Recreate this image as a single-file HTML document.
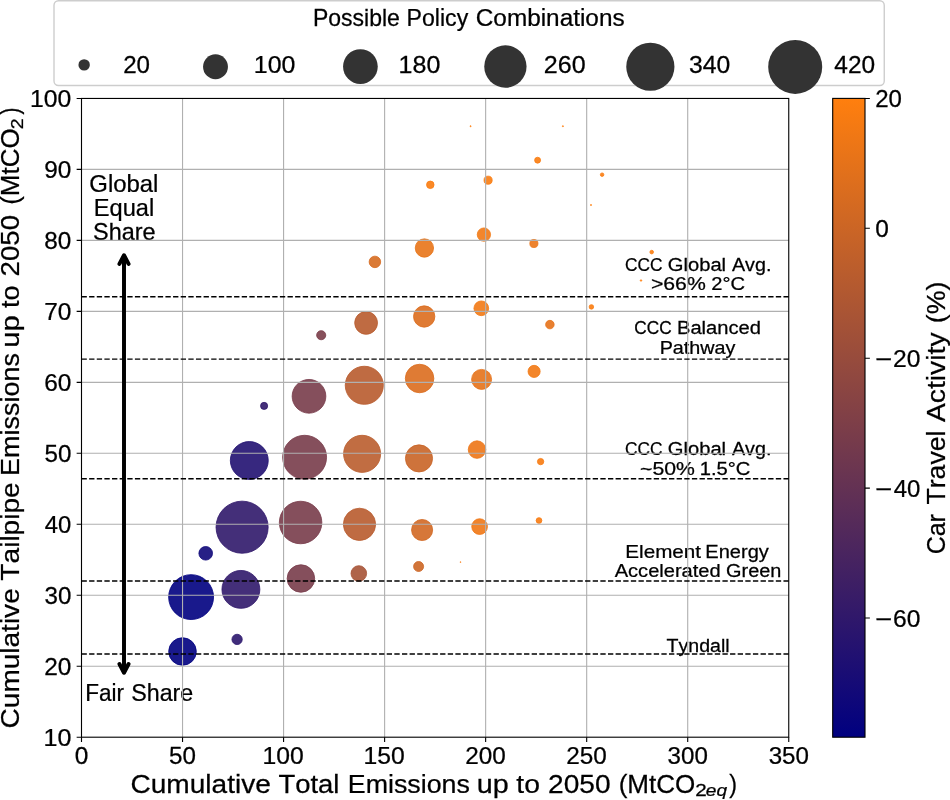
<!DOCTYPE html>
<html><head><meta charset="utf-8"><style>
html,body{margin:0;padding:0;background:#fff;overflow:hidden}
svg{display:block;will-change:transform}
text{font-family:"Liberation Sans", sans-serif;fill:#000;font-kerning:none;stroke:#000;stroke-width:0.25px}
</style></head><body>
<svg width="950" height="800" viewBox="0 0 950 800">
<rect x="0" y="0" width="950" height="800" fill="#fff"/>
<rect x="54.0" y="0.7" width="830.25" height="84.8" rx="4.5" ry="4.5" fill="#fff" stroke="#cdcdcd" stroke-width="1.39"/>
<text transform="translate(313.01,25.90) scale(0.9826,1)" font-size="23.4">Possible</text>
<text transform="translate(406.60,25.90) scale(0.9875,1)" font-size="23.4">Policy</text>
<text transform="translate(475.76,25.90) scale(1.0408,1)" font-size="23.4">Combinations</text>
<circle cx="84.15" cy="64.9" r="5.70" fill="#333333"/>
<circle cx="215.5" cy="66.8" r="12.45" fill="#333333"/>
<circle cx="360.4" cy="66.6" r="17.35" fill="#333333"/>
<circle cx="505.4" cy="66.5" r="21.15" fill="#333333"/>
<circle cx="650.35" cy="66.75" r="24.10" fill="#333333"/>
<circle cx="795.2" cy="66.9" r="27.00" fill="#333333"/>
<text transform="translate(123.19,72.60) scale(1.0319,1)" font-size="23.4">20</text>
<text transform="translate(253.80,72.60) scale(1.0648,1)" font-size="23.4">100</text>
<text transform="translate(398.59,72.60) scale(1.0703,1)" font-size="23.4">180</text>
<text transform="translate(543.74,72.60) scale(1.0717,1)" font-size="23.4">260</text>
<text transform="translate(689.06,72.60) scale(1.0581,1)" font-size="23.4">340</text>
<text transform="translate(834.34,72.60) scale(1.0455,1)" font-size="23.4">420</text>
<circle cx="191.1" cy="597.1" r="22.45" fill="rgb(0,0,128)" fill-opacity="0.9" stroke="rgb(0,0,128)" stroke-opacity="0.9" stroke-width="0.9"/>
<circle cx="240.9" cy="589.4" r="18.95" fill="rgb(48,24,106)" fill-opacity="0.9" stroke="rgb(48,24,106)" stroke-opacity="0.9" stroke-width="0.9"/>
<circle cx="182.5" cy="651.5" r="13.80" fill="rgb(0,0,128)" fill-opacity="0.9" stroke="rgb(0,0,128)" stroke-opacity="0.9" stroke-width="0.9"/>
<circle cx="237.1" cy="639.4" r="5.15" fill="rgb(43,22,109)" fill-opacity="0.9" stroke="rgb(43,22,109)" stroke-opacity="0.9" stroke-width="0.9"/>
<circle cx="242.1" cy="527.2" r="26.05" fill="rgb(48,24,106)" fill-opacity="0.9" stroke="rgb(48,24,106)" stroke-opacity="0.9" stroke-width="0.9"/>
<circle cx="205.7" cy="553.3" r="6.80" fill="rgb(15,8,121)" fill-opacity="0.9" stroke="rgb(15,8,121)" stroke-opacity="0.9" stroke-width="0.9"/>
<circle cx="300.6" cy="522.5" r="21.25" fill="rgb(120,60,74)" fill-opacity="0.9" stroke="rgb(120,60,74)" stroke-opacity="0.9" stroke-width="0.9"/>
<circle cx="359.5" cy="524.35" r="16.15" fill="rgb(184,91,46)" fill-opacity="0.9" stroke="rgb(184,91,46)" stroke-opacity="0.9" stroke-width="0.9"/>
<circle cx="300.9" cy="578.5" r="13.75" fill="rgb(120,60,74)" fill-opacity="0.9" stroke="rgb(120,60,74)" stroke-opacity="0.9" stroke-width="0.9"/>
<circle cx="358.8" cy="573.5" r="7.80" fill="rgb(166,83,54)" fill-opacity="0.9" stroke="rgb(166,83,54)" stroke-opacity="0.9" stroke-width="0.9"/>
<circle cx="422.1" cy="530.0" r="10.55" fill="rgb(209,104,35)" fill-opacity="0.9" stroke="rgb(209,104,35)" stroke-opacity="0.9" stroke-width="0.9"/>
<circle cx="479.6" cy="526.6" r="7.85" fill="rgb(240,119,21)" fill-opacity="0.9" stroke="rgb(240,119,21)" stroke-opacity="0.9" stroke-width="0.9"/>
<circle cx="418.6" cy="566.5" r="5.00" fill="rgb(204,102,37)" fill-opacity="0.9" stroke="rgb(204,102,37)" stroke-opacity="0.9" stroke-width="0.9"/>
<circle cx="460.5" cy="562.1" r="0.40" fill="rgb(247,123,17)" fill-opacity="0.9" stroke="rgb(247,123,17)" stroke-opacity="0.9" stroke-width="0.9"/>
<circle cx="540.6" cy="461.6" r="3.15" fill="rgb(247,123,17)" fill-opacity="0.9" stroke="rgb(247,123,17)" stroke-opacity="0.9" stroke-width="0.9"/>
<circle cx="539.0" cy="520.5" r="2.85" fill="rgb(247,123,17)" fill-opacity="0.9" stroke="rgb(247,123,17)" stroke-opacity="0.9" stroke-width="0.9"/>
<circle cx="249.3" cy="460.5" r="18.95" fill="rgb(33,17,113)" fill-opacity="0.9" stroke="rgb(33,17,113)" stroke-opacity="0.9" stroke-width="0.9"/>
<circle cx="304.6" cy="457.25" r="21.95" fill="rgb(120,60,74)" fill-opacity="0.9" stroke="rgb(120,60,74)" stroke-opacity="0.9" stroke-width="0.9"/>
<circle cx="362.1" cy="453.85" r="18.55" fill="rgb(186,93,45)" fill-opacity="0.9" stroke="rgb(186,93,45)" stroke-opacity="0.9" stroke-width="0.9"/>
<circle cx="419.0" cy="458.4" r="13.55" fill="rgb(201,100,38)" fill-opacity="0.9" stroke="rgb(201,100,38)" stroke-opacity="0.9" stroke-width="0.9"/>
<circle cx="481.6" cy="379.4" r="10.00" fill="rgb(230,114,25)" fill-opacity="0.9" stroke="rgb(230,114,25)" stroke-opacity="0.9" stroke-width="0.9"/>
<circle cx="534.1" cy="371.4" r="6.05" fill="rgb(242,121,20)" fill-opacity="0.9" stroke="rgb(242,121,20)" stroke-opacity="0.9" stroke-width="0.9"/>
<circle cx="477.0" cy="449.6" r="8.75" fill="rgb(237,118,22)" fill-opacity="0.9" stroke="rgb(237,118,22)" stroke-opacity="0.9" stroke-width="0.9"/>
<circle cx="264.1" cy="405.9" r="3.55" fill="rgb(48,24,106)" fill-opacity="0.9" stroke="rgb(48,24,106)" stroke-opacity="0.9" stroke-width="0.9"/>
<circle cx="309.0" cy="396.3" r="16.85" fill="rgb(120,60,74)" fill-opacity="0.9" stroke="rgb(120,60,74)" stroke-opacity="0.9" stroke-width="0.9"/>
<circle cx="364.3" cy="385.3" r="19.05" fill="rgb(184,91,46)" fill-opacity="0.9" stroke="rgb(184,91,46)" stroke-opacity="0.9" stroke-width="0.9"/>
<circle cx="321.2" cy="335.2" r="4.55" fill="rgb(122,61,73)" fill-opacity="0.9" stroke="rgb(122,61,73)" stroke-opacity="0.9" stroke-width="0.9"/>
<circle cx="366.1" cy="322.9" r="11.40" fill="rgb(184,91,46)" fill-opacity="0.9" stroke="rgb(184,91,46)" stroke-opacity="0.9" stroke-width="0.9"/>
<circle cx="424.2" cy="316.5" r="10.65" fill="rgb(219,109,30)" fill-opacity="0.9" stroke="rgb(219,109,30)" stroke-opacity="0.9" stroke-width="0.9"/>
<circle cx="419.6" cy="378.5" r="14.25" fill="rgb(219,109,30)" fill-opacity="0.9" stroke="rgb(219,109,30)" stroke-opacity="0.9" stroke-width="0.9"/>
<circle cx="481.3" cy="308.3" r="7.35" fill="rgb(242,121,20)" fill-opacity="0.9" stroke="rgb(242,121,20)" stroke-opacity="0.9" stroke-width="0.9"/>
<circle cx="549.9" cy="324.6" r="4.25" fill="rgb(230,114,25)" fill-opacity="0.9" stroke="rgb(230,114,25)" stroke-opacity="0.9" stroke-width="0.9"/>
<circle cx="591.4" cy="306.9" r="2.25" fill="rgb(250,124,16)" fill-opacity="0.9" stroke="rgb(250,124,16)" stroke-opacity="0.9" stroke-width="0.9"/>
<circle cx="430.3" cy="184.8" r="3.75" fill="rgb(250,124,16)" fill-opacity="0.9" stroke="rgb(250,124,16)" stroke-opacity="0.9" stroke-width="0.9"/>
<circle cx="488.1" cy="180.2" r="4.05" fill="rgb(250,124,16)" fill-opacity="0.9" stroke="rgb(250,124,16)" stroke-opacity="0.9" stroke-width="0.9"/>
<circle cx="483.9" cy="234.6" r="6.65" fill="rgb(242,121,20)" fill-opacity="0.9" stroke="rgb(242,121,20)" stroke-opacity="0.9" stroke-width="0.9"/>
<circle cx="424.4" cy="248.0" r="9.15" fill="rgb(232,116,24)" fill-opacity="0.9" stroke="rgb(232,116,24)" stroke-opacity="0.9" stroke-width="0.9"/>
<circle cx="374.9" cy="261.9" r="5.75" fill="rgb(214,107,32)" fill-opacity="0.9" stroke="rgb(214,107,32)" stroke-opacity="0.9" stroke-width="0.9"/>
<circle cx="562.9" cy="126.2" r="0.55" fill="rgb(255,127,14)" fill-opacity="0.9" stroke="rgb(255,127,14)" stroke-opacity="0.9" stroke-width="0.9"/>
<circle cx="537.6" cy="160.2" r="2.95" fill="rgb(250,124,16)" fill-opacity="0.9" stroke="rgb(250,124,16)" stroke-opacity="0.9" stroke-width="0.9"/>
<circle cx="602.1" cy="174.7" r="1.75" fill="rgb(250,124,16)" fill-opacity="0.9" stroke="rgb(250,124,16)" stroke-opacity="0.9" stroke-width="0.9"/>
<circle cx="591.0" cy="205.0" r="0.55" fill="rgb(255,127,14)" fill-opacity="0.9" stroke="rgb(255,127,14)" stroke-opacity="0.9" stroke-width="0.9"/>
<circle cx="651.7" cy="252.1" r="1.80" fill="rgb(250,124,16)" fill-opacity="0.9" stroke="rgb(250,124,16)" stroke-opacity="0.9" stroke-width="0.9"/>
<circle cx="641.0" cy="280.5" r="0.75" fill="rgb(255,127,14)" fill-opacity="0.9" stroke="rgb(255,127,14)" stroke-opacity="0.9" stroke-width="0.9"/>
<circle cx="533.9" cy="243.5" r="4.05" fill="rgb(235,117,23)" fill-opacity="0.9" stroke="rgb(235,117,23)" stroke-opacity="0.9" stroke-width="0.9"/>
<circle cx="470.6" cy="126.2" r="0.55" fill="rgb(255,127,14)" fill-opacity="0.9" stroke="rgb(255,127,14)" stroke-opacity="0.9" stroke-width="0.9"/>
<text transform="translate(625.02,270.70) scale(0.9818,1)" font-size="17.6">CCC</text>
<text transform="translate(667.78,270.70) scale(1.1472,1)" font-size="17.6">Global</text>
<text transform="translate(731.96,270.70) scale(1.1199,1)" font-size="17.6">Avg.</text>
<text transform="translate(650.95,289.90) scale(1.2043,1)" font-size="17.6">&gt;66%</text>
<text transform="translate(711.29,289.90) scale(1.1436,1)" font-size="17.6">2°C</text>
<text transform="translate(634.32,334.30) scale(0.9790,1)" font-size="17.6">CCC</text>
<text transform="translate(676.94,334.30) scale(1.1467,1)" font-size="17.6">Balanced</text>
<text transform="translate(659.68,353.70) scale(1.1223,1)" font-size="17.6">Pathway</text>
<text transform="translate(625.02,455.30) scale(0.9818,1)" font-size="17.6">CCC</text>
<text transform="translate(667.78,455.30) scale(1.1472,1)" font-size="17.6">Global</text>
<text transform="translate(731.96,455.30) scale(1.1199,1)" font-size="17.6">Avg.</text>
<text transform="translate(640.05,474.80) scale(1.2045,1)" font-size="17.6">~50%</text>
<text transform="translate(699.76,474.80) scale(1.1468,1)" font-size="17.6">1.5°C</text>
<text transform="translate(625.31,557.80) scale(1.1732,1)" font-size="17.6">Element</text>
<text transform="translate(705.36,557.80) scale(1.1384,1)" font-size="17.6">Energy</text>
<text transform="translate(614.66,576.70) scale(1.1420,1)" font-size="17.6">Accelerated</text>
<text transform="translate(726.10,576.70) scale(1.1304,1)" font-size="17.6">Green</text>
<text transform="translate(666.56,651.70) scale(1.1131,1)" font-size="17.6">Tyndall</text>
<text transform="translate(89.30,192.00) scale(1.0129,1)" font-size="23.6">Global</text>
<text transform="translate(93.76,216.40) scale(1.0010,1)" font-size="23.6">Equal</text>
<text transform="translate(93.04,240.10) scale(0.9925,1)" font-size="23.6">Share</text>
<text transform="translate(85.15,701.30) scale(0.9552,1)" font-size="23.6">Fair</text>
<text transform="translate(131.24,701.30) scale(0.9859,1)" font-size="23.6">Share</text>
<path d="M182.54 98.45V737.2 M283.57 98.45V737.2 M384.61 98.45V737.2 M485.64 98.45V737.2 M586.68 98.45V737.2 M687.71 98.45V737.2 M81.5 666.23H788.75 M81.5 595.26H788.75 M81.5 524.28H788.75 M81.5 453.31H788.75 M81.5 382.34H788.75 M81.5 311.37H788.75 M81.5 240.39H788.75 M81.5 169.42H788.75" stroke="#b0b0b0" stroke-width="1.11" fill="none"/>
<path d="M81.5 296.7H788.75" stroke="#000" stroke-width="1.44" stroke-dasharray="5.33 2.30" fill="none"/>
<path d="M81.5 359.1H788.75" stroke="#000" stroke-width="1.44" stroke-dasharray="5.33 2.30" fill="none"/>
<path d="M81.5 478.7H788.75" stroke="#000" stroke-width="1.44" stroke-dasharray="5.33 2.30" fill="none"/>
<path d="M81.5 581.0H788.75" stroke="#000" stroke-width="1.44" stroke-dasharray="5.33 2.30" fill="none"/>
<path d="M81.5 654.0H788.75" stroke="#000" stroke-width="1.44" stroke-dasharray="5.33 2.30" fill="none"/>
<path d="M124 255.6 V672.4 M119.45 263.95 L124 255.2 L128.55 263.95 M119.45 664.0 L124 672.8 L128.55 664.0" stroke="#000" stroke-width="3.95" fill="none" stroke-linecap="round" stroke-linejoin="round"/>
<rect x="81.5" y="98.45" width="707.25" height="638.75" fill="none" stroke="#000" stroke-width="1.11"/>
<path d="M81.50 737.2v4.86 M182.54 737.2v4.86 M283.57 737.2v4.86 M384.61 737.2v4.86 M485.64 737.2v4.86 M586.68 737.2v4.86 M687.71 737.2v4.86 M788.75 737.2v4.86 M81.5 737.20h-4.86 M81.5 666.23h-4.86 M81.5 595.26h-4.86 M81.5 524.28h-4.86 M81.5 453.31h-4.86 M81.5 382.34h-4.86 M81.5 311.37h-4.86 M81.5 240.39h-4.86 M81.5 169.42h-4.86 M81.5 98.45h-4.86" stroke="#000" stroke-width="1.11" fill="none"/>
<text transform="translate(74.69,763.60) scale(1.0460,1)" font-size="23.4">0</text>
<text transform="translate(169.07,763.60) scale(1.0340,1)" font-size="23.4">50</text>
<text transform="translate(262.49,763.60) scale(1.0565,1)" font-size="23.4">100</text>
<text transform="translate(363.52,763.60) scale(1.0565,1)" font-size="23.4">150</text>
<text transform="translate(465.22,763.60) scale(1.0392,1)" font-size="23.4">200</text>
<text transform="translate(566.26,763.60) scale(1.0392,1)" font-size="23.4">250</text>
<text transform="translate(667.60,763.60) scale(1.0312,1)" font-size="23.4">300</text>
<text transform="translate(768.63,763.60) scale(1.0312,1)" font-size="23.4">350</text>
<text transform="translate(43.49,746.10) scale(1.0715,1)" font-size="23.4">10</text>
<text transform="translate(44.17,675.13) scale(1.0444,1)" font-size="23.4">20</text>
<text transform="translate(44.48,604.16) scale(1.0321,1)" font-size="23.4">30</text>
<text transform="translate(44.85,533.18) scale(1.0172,1)" font-size="23.4">40</text>
<text transform="translate(44.43,462.21) scale(1.0340,1)" font-size="23.4">50</text>
<text transform="translate(44.16,391.24) scale(1.0449,1)" font-size="23.4">60</text>
<text transform="translate(44.15,320.27) scale(1.0454,1)" font-size="23.4">70</text>
<text transform="translate(44.34,249.29) scale(1.0375,1)" font-size="23.4">80</text>
<text transform="translate(44.26,178.32) scale(1.0409,1)" font-size="23.4">90</text>
<text transform="translate(30.12,107.35) scale(1.0565,1)" font-size="23.4">100</text>
<text transform="translate(130.47,792.50) scale(1.0558,1)" font-size="26.6">Cumulative</text>
<text transform="translate(278.38,792.50) scale(1.0324,1)" font-size="26.6">Total</text>
<text transform="translate(347.80,792.50) scale(1.0071,1)" font-size="26.6">Emissions</text>
<text transform="translate(476.73,792.50) scale(1.0807,1)" font-size="26.6">up</text>
<text transform="translate(516.37,792.50) scale(1.0646,1)" font-size="26.6">to</text>
<text transform="translate(548.09,792.50) scale(1.0564,1)" font-size="26.6">2050</text>
<text transform="translate(618.69,792.50) scale(0.9790,1)" font-size="26.6">(MtCO</text>
<text transform="translate(695.16,795.80) scale(1.2430,1)" font-size="16.6">2</text>
<text transform="translate(705.86,795.80) scale(1.1522,1)" font-size="16.6" font-style="italic">eq</text>
<text transform="translate(729.16,792.50) scale(0.8791,1)" font-size="26.6">)</text>
<text transform="translate(18.90,728.42) rotate(-90) scale(1.0535,1)" font-size="26.6">Cumulative</text>
<text transform="translate(18.90,580.63) rotate(-90) scale(1.0561,1)" font-size="26.6">Tailpipe</text>
<text transform="translate(18.90,475.96) rotate(-90) scale(1.0143,1)" font-size="26.6">Emissions</text>
<text transform="translate(18.90,347.79) rotate(-90) scale(1.0956,1)" font-size="26.6">up</text>
<text transform="translate(18.90,308.11) rotate(-90) scale(1.0211,1)" font-size="26.6">to</text>
<text transform="translate(18.90,276.39) rotate(-90) scale(1.0388,1)" font-size="26.6">2050</text>
<text transform="translate(18.90,204.81) rotate(-90) scale(0.9763,1)" font-size="26.6">(MtCO</text>
<text transform="translate(22.70,129.18) rotate(-90) scale(1.1769,1)" font-size="16.6">2</text>
<text transform="translate(18.90,114.52) rotate(-90) scale(0.7799,1)" font-size="26.6">)</text>
<defs><linearGradient id="cb" x1="0" y1="1" x2="0" y2="0"><stop offset="0" stop-color="rgb(0,0,128)"/><stop offset="1" stop-color="rgb(255,127,14)"/></linearGradient></defs>
<rect x="832.7" y="98.4" width="32.3" height="638.8" fill="url(#cb)" stroke="#000" stroke-width="1.11"/>
<path d="M865 98.5h4.86 M865 228.3h4.86 M865 358.2h4.86 M865 488.1h4.86 M865 618.0h4.86" stroke="#000" stroke-width="1.11" fill="none"/>
<text transform="translate(875.19,106.50) scale(1.0277,1)" font-size="23.4">20</text>
<text transform="translate(875.14,236.50) scale(1.0460,1)" font-size="23.4">0</text>
<text transform="translate(875.36,366.80) scale(1.2490,1)" font-size="23.4">−</text>
<text transform="translate(892.96,366.80) scale(1.0528,1)" font-size="23.4">20</text>
<text transform="translate(875.36,496.70) scale(1.2490,1)" font-size="23.4">−</text>
<text transform="translate(893.65,496.70) scale(1.0254,1)" font-size="23.4">40</text>
<text transform="translate(875.36,626.60) scale(1.2490,1)" font-size="23.4">−</text>
<text transform="translate(892.95,626.60) scale(1.0533,1)" font-size="23.4">60</text>
<text transform="translate(945.00,554.27) rotate(-90) scale(0.9374,1)" font-size="26.6">Car</text>
<text transform="translate(945.00,504.60) rotate(-90) scale(1.0024,1)" font-size="26.6">Travel</text>
<text transform="translate(945.00,422.06) rotate(-90) scale(1.0637,1)" font-size="26.6">Activity</text>
<text transform="translate(945.00,323.26) rotate(-90) scale(1.0061,1)" font-size="26.6">(%)</text>
</svg>
</body></html>
